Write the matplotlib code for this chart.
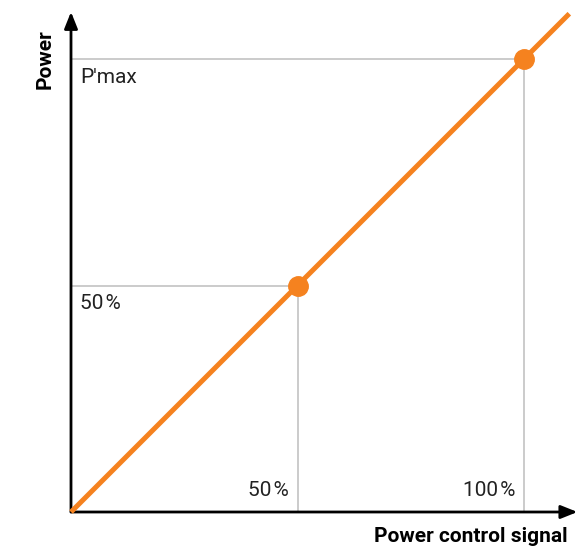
import matplotlib.pyplot as plt
import numpy as np

plt.rcParams['font.family'] = ['Roboto', 'DejaVu Sans']

# control signal (fraction of full scale) vs power (fraction of P'max)
signal_pts = [0.5, 1.0]
power_pts = [0.5, 1.0]
line_x = [0.0, 1.10]
line_y = [0.0, 1.10]
y_labels = ["50\u200a%", "P'max"]
x_labels = ["50\u200a%", "100\u200a%"]

orange = '#F5821F'
grey = '#bdbdbd'

fig = plt.figure(figsize=(5.86, 5.48), dpi=100)
ax = fig.add_axes([0, 0, 1, 1])
scale = 453.0
ax.set_xlim(-71 / scale, (586 - 71) / scale)
ax.set_ylim(-(548 - 512) / scale, 512 / scale)
ax.axis('off')

# guide lines
for sx, py in zip(signal_pts, power_pts):
    ax.plot([0, sx], [py, py], color=grey, lw=1.1, zorder=1)
    ax.plot([sx, sx], [0, py], color=grey, lw=1.1, zorder=1)

# axes with arrows
ax.annotate('', xy=(1.118, 0), xytext=(0, 0),
            arrowprops=dict(arrowstyle='-|>,head_length=1.0,head_width=0.4', color='black', lw=2, shrinkA=0, shrinkB=0), zorder=3)
ax.annotate('', xy=(0, 1.104), xytext=(0, 0),
            arrowprops=dict(arrowstyle='-|>,head_length=1.0,head_width=0.4', color='black', lw=2, shrinkA=0, shrinkB=0), zorder=3)

ax.plot(line_x, line_y, color=orange, lw=3.6, solid_capstyle='butt', zorder=4)
ax.plot(signal_pts, power_pts, 'o', color=orange, ms=14, zorder=5)

# labels
for py, lab in zip(power_pts, y_labels):
    ax.text(0.02, py - 0.04, lab, fontsize=15, color='#222222', ha='left', va='center')
for sx, lab in zip(signal_pts, x_labels):
    ax.text(sx - 0.02, 0.048, lab, fontsize=15, color='#222222', ha='right', va='center')

ax.text(1.096, -0.055, 'Power control signal', fontsize=15, fontweight='bold', ha='right', va='center')
ax.text(-0.058, 1.0, 'Power', fontsize=15, fontweight='bold', rotation=90, ha='center', va='center')

fig.savefig('out.png', dpi=100)
